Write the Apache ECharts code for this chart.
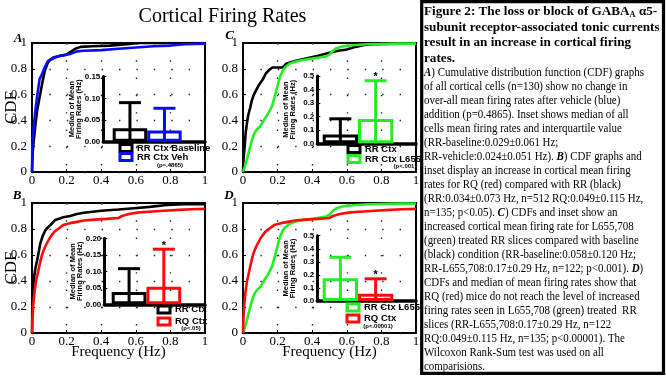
<!DOCTYPE html>
<html><head><meta charset="utf-8">
<script src="https://cdn.jsdelivr.net/npm/echarts@6/dist/echarts.min.js"></script>
<style>html,body{margin:0;padding:0;background:#fff}#c{width:666px;height:378px}</style>
</head><body><div id="c"></div>
<script>
// ---------- DATA ----------
const freqTicks = [0, 0.2, 0.4, 0.6, 0.8, 1];
// CDF curves: [frequency (Hz), cumulative fraction]
const cdfA_baseline = [[0,0],[0.004,0.15],[0.01,0.24],[0.02,0.37],[0.03,0.48],[0.044,0.58],[0.058,0.68],[0.073,0.78],[0.092,0.85],[0.106,0.87],[0.13,0.885],[0.16,0.9],[0.2,0.91],[0.22,0.93],[0.25,0.955],[0.28,0.97],[0.35,0.975],[0.45,0.98],[0.55,0.99],[0.62,1],[1,1]];
const cdfA_veh = [[0,0],[0.002,0.2],[0.01,0.35],[0.02,0.48],[0.029,0.58],[0.044,0.72],[0.058,0.76],[0.073,0.81],[0.092,0.86],[0.11,0.875],[0.125,0.89],[0.164,0.9],[0.22,0.915],[0.26,0.935],[0.3,0.94],[0.4,0.945],[0.5,0.955],[0.6,0.965],[0.7,0.975],[0.8,0.98],[0.88,0.99],[1,0.995]];
const cdfB_rr = [[0,0],[0.002,0.23],[0.01,0.41],[0.02,0.5],[0.03,0.56],[0.04,0.63],[0.048,0.69],[0.06,0.74],[0.077,0.79],[0.09,0.81],[0.106,0.83],[0.12,0.85],[0.135,0.87],[0.16,0.88],[0.18,0.89],[0.22,0.9],[0.26,0.915],[0.3,0.925],[0.4,0.94],[0.5,0.95],[0.59,0.96],[0.68,0.97],[0.78,0.985],[0.88,0.99],[1,0.99]];
const cdfRQ = [[0,0],[0.003,0.12],[0.008,0.23],[0.015,0.32],[0.023,0.4],[0.03,0.44],[0.04,0.5],[0.05,0.56],[0.06,0.61],[0.07,0.645],[0.08,0.675],[0.09,0.7],[0.1,0.725],[0.11,0.745],[0.13,0.78],[0.15,0.8],[0.18,0.83],[0.22,0.845],[0.26,0.855],[0.3,0.865],[0.36,0.872],[0.43,0.878],[0.5,0.885],[0.52,0.9],[0.56,0.915],[0.62,0.928],[0.7,0.935],[0.76,0.94],[0.85,0.947],[0.92,0.952],[1,0.955]];
const cdfC_rr = [[0,0],[0.003,0.1],[0.01,0.2],[0.015,0.3],[0.023,0.38],[0.03,0.44],[0.042,0.5],[0.05,0.55],[0.06,0.59],[0.07,0.62],[0.08,0.645],[0.09,0.67],[0.1,0.69],[0.11,0.71],[0.12,0.73],[0.13,0.76],[0.15,0.79],[0.17,0.81],[0.23,0.81],[0.25,0.84],[0.3,0.86],[0.35,0.875],[0.43,0.9],[0.5,0.925],[0.55,0.94],[0.6,0.95],[0.65,0.97],[0.7,0.985],[0.75,0.99],[0.9,0.995],[1,1]];
const cdfL655 = [[0,0],[0.01,0.04],[0.023,0.1],[0.04,0.19],[0.05,0.24],[0.06,0.28],[0.07,0.31],[0.08,0.33],[0.1,0.355],[0.12,0.4],[0.14,0.44],[0.16,0.49],[0.17,0.52],[0.18,0.57],[0.19,0.62],[0.2,0.67],[0.21,0.72],[0.22,0.76],[0.235,0.8],[0.25,0.82],[0.27,0.84],[0.3,0.855],[0.33,0.865],[0.38,0.875],[0.43,0.885],[0.48,0.895],[0.5,0.91],[0.52,0.94],[0.54,0.96],[0.58,0.975],[0.65,0.985],[0.72,0.99],[0.9,0.995],[1,0.995]];

// Insets: median of mean firing rates (Hz) and top of interquartile error bar
const insetA_names = ['RR Ctx Baseline', 'RR Ctx Veh'];
const insetA_median = [0.031, 0.026];
const insetA_upper = [0.090, 0.077];
const insetA_star = ['', ''];
const insetA_p = '(p=.4865)';

const insetB_names = ['RR Ctx', 'RQ Ctx'];
const insetB_median = [0.037, 0.053];
const insetB_upper = [0.108, 0.167];
const insetB_star = ['', '*'];
const insetB_p = '(p<.05)';

const insetC_names = ['RR Ctx', 'RR Ctx L655'];
const insetC_median = [0.066, 0.18];
const insetC_upper = [0.182, 0.465];
const insetC_star = ['', '*'];
const insetC_p = '(p<.001)';

const insetD_names = ['RR Ctx L655', 'RQ Ctx'];
const insetD_median = [0.175, 0.055];
const insetD_upper = [0.335, 0.170];
const insetD_star = ['', '*'];
const insetD_p = '(p<.00001)';

const chartTitle = 'Cortical Firing Rates';
const captionHead = [
  'Figure 2: The loss or block of GABA{s|A} α5-',
  'subunit receptor-associated tonic currents',
  'result in an increase in cortical firing',
  'rates.'
];
const captionBody = [
  '{bi|A}) Cumulative distribution function (CDF) graphs',
  'of all cortical cells (n=130) show no change in',
  'over-all mean firing rates after vehicle (blue)',
  'addition (p=0.4865). Inset shows median of all',
  'cells mean firing rates and interquartile value',
  '(RR-baseline:0.029±0.061 Hz;',
  'RR-vehicle:0.024±0.051 Hz). {bi|B}) CDF graphs and',
  'inset display an increase in cortical mean firing',
  'rates for RQ (red) compared with RR (black)',
  '(RR:0.034±0.073 Hz, n=512 RQ:0.049±0.115 Hz,',
  'n=135; p<0.05). {bi|C}) CDFs and inset show an',
  'increased cortical mean firing rate for L655,708',
  '(green) treated RR slices compared with baseline',
  '(black) condition (RR-baseline:0.058±0.120 Hz;',
  'RR-L655,708:0.17±0.29 Hz, n=122; p<0.001). {bi|D})',
  'CDFs and median of mean firing rates show that',
  'RQ (red) mice do not reach the level of increased',
  'firing rates seen in L655,708 (green) treated  RR',
  'slices (RR-L655,708:0.17±0.29 Hz, n=122',
  'RQ:0.049±0.115 Hz, n=135; p<0.00001). The',
  'Wilcoxon Rank-Sum test was used on all',
  'comparisions.'
];

// ---------- STYLE / LAYOUT ----------
const SERIF = "'Liberation Serif', 'Times New Roman', serif";
const SANS = "'Liberation Sans', Arial, sans-serif";
const BLACK = '#000000', BLUE = '#0a0aff', RED = '#ff0a0a', GREEN = '#22ee22';

const panels = [
  { letter:'A', letterPos:[18,39], main:{left:32, top:43, width:173, height:129}, yName:'CDF', xName:'',
    lines:[{name:'RR Ctx Baseline', data:cdfA_baseline, color:BLACK},{name:'RR Ctx Veh', data:cdfA_veh, color:BLUE}],
    inset:{frame:{left:103.3, top:76.6, width:101.7, height:65.1}, bars:{left:112.7, width:69}, max:0.15, interval:0.05, dec:2,
      names:insetA_names, colors:[BLACK,BLUE], median:insetA_median, upper:insetA_upper, star:insetA_star},
    legend:{left:118.5, top:143, gap:-1}, p:{text:insetA_p, x:170, y:165.5} },
  { letter:'C', letterPos:[229.5,36], main:{left:243, top:43, width:173, height:129}, yName:'', xName:'',
    lines:[{name:'RR Ctx', data:cdfC_rr, color:BLACK},{name:'RR Ctx L655', data:cdfL655, color:GREEN}],
    inset:{frame:{left:317.3, top:76, width:98.7, height:67.3}, bars:{left:322.7, width:70.6}, max:0.5, interval:0.1, dec:1,
      names:insetC_names, colors:[BLACK,GREEN], median:insetC_median, upper:insetC_upper, star:insetC_star},
    legend:{left:346.5, top:144, gap:0}, p:{text:insetC_p, x:405, y:166} },
  { letter:'B', letterPos:[17,195.5], main:{left:32, top:203, width:173, height:130}, yName:'CDF', xName:'Frequency (Hz)',
    lines:[{name:'RR Ctx', data:cdfB_rr, color:BLACK},{name:'RQ Ctx', data:cdfRQ, color:RED}],
    inset:{frame:{left:104.3, top:238.3, width:100.7, height:66}, bars:{left:111.7, width:69.5}, max:0.2, interval:0.05, dec:2,
      names:insetB_names, colors:[BLACK,RED], median:insetB_median, upper:insetB_upper, star:insetB_star},
    legend:{left:156.5, top:304.5, gap:2}, p:{text:insetB_p, x:191, y:328} },
  { letter:'D', letterPos:[229,196], main:{left:243, top:203, width:173, height:130}, yName:'', xName:'Frequency (Hz)',
    lines:[{name:'RR Ctx L655', data:cdfL655, color:GREEN},{name:'RQ Ctx', data:cdfRQ, color:RED}],
    inset:{frame:{left:317.3, top:235.7, width:98.7, height:65.3}, bars:{left:322.7, width:70.6}, max:0.5, interval:0.1, dec:1,
      names:insetD_names, colors:[GREEN,RED], median:insetD_median, upper:insetD_upper, star:insetD_star},
    legend:{left:345.5, top:302.5, gap:1}, p:{text:insetD_p, x:378, y:326.5} }
];

function buildOption(){
  const grid=[], xAxis=[], yAxis=[], barSeries=[], lineSeries=[], errSeries=[], legend=[], graphic=[];
  panels.forEach(p => {
    // main CDF grid
    const gi = grid.length;
    grid.push({left:p.main.left, top:p.main.top, width:p.main.width, height:p.main.height, show:true,
      borderColor:'#000', borderWidth:2, backgroundColor:'rgba(0,0,0,0)', containLabel:false, outerBoundsMode:'none'});
    xAxis.push({gridIndex:gi, type:'value', min:freqTicks[0], max:freqTicks[freqTicks.length-1], interval:freqTicks[1]-freqTicks[0],
      name:p.xName, nameLocation:'middle', nameGap:12, nameMoveOverlap:false,
      nameTextStyle:{fontFamily:SERIF, fontSize:15, color:'#000'},
      axisLine:{show:false}, axisTick:{show:true, inside:true, length:3, lineStyle:{color:'#000', width:1}},
      axisLabel:{margin:2, fontFamily:SERIF, fontSize:13, color:'#000', showMinLabel:true, showMaxLabel:true},
      splitLine:{show:true, lineStyle:{color:'#222', width:1.4, type:[1.4,15.9]}}});
    yAxis.push({gridIndex:gi, type:'value', min:0, max:1, interval:0.2,
      name:p.yName, nameLocation:'middle', nameRotate:90, nameGap:12, nameMoveOverlap:false,
      nameTextStyle:{fontFamily:SERIF, fontSize:17, color:'#000'},
      axisLine:{show:false}, axisTick:{show:true, inside:true, length:3, lineStyle:{color:'#000', width:1}},
      axisLabel:{margin:5, fontFamily:SERIF, fontSize:13, color:'#000', showMinLabel:true, showMaxLabel:true},
      splitLine:{show:true, lineStyle:{color:'#222', width:1.4, type:[1.4,16]}}});
    p.lines.forEach(l => lineSeries.push({type:'line', name:p.letter+' '+l.name+' CDF', xAxisIndex:gi, yAxisIndex:gi,
      data:l.data, showSymbol:false, symbol:'none', clip:true, z:3,
      lineStyle:{color:l.color, width:2.6}, itemStyle:{color:l.color}}));

    const ins = p.inset;
    // inset frame (axes)
    const fi = grid.length;
    grid.push({left:ins.frame.left, top:ins.frame.top, width:ins.frame.width, height:ins.frame.height, show:false, containLabel:false, outerBoundsMode:'none'});
    xAxis.push({gridIndex:fi, type:'value', min:0, max:1, axisLine:{show:true, onZero:false, lineStyle:{color:'#000', width:3.5}},
      axisTick:{show:false}, axisLabel:{show:false}, splitLine:{show:false}});
    yAxis.push({gridIndex:fi, type:'value', min:0, max:ins.max, interval:ins.interval,
      axisLine:{show:true, onZero:false, lineStyle:{color:'#000', width:3}},
      axisTick:{show:true, inside:true, length:3, lineStyle:{color:'#000', width:1}},
      axisLabel:{margin:3, fontFamily:SANS, fontWeight:'bold', fontSize:8, color:'#000', formatter:v=>v.toFixed(ins.dec)},
      splitLine:{show:false},
      name:'Median of Mean\nFiring Rates (Hz)', nameLocation:'middle', nameRotate:90, nameGap:21, nameMoveOverlap:false,
      nameTextStyle:{fontFamily:SANS, fontWeight:'bold', fontSize:7.5, lineHeight:7, color:'#000'}});
    // inset bars
    const bi = grid.length;
    grid.push({left:ins.bars.left, top:ins.frame.top, width:ins.bars.width, height:ins.frame.height, show:false, containLabel:false, outerBoundsMode:'none'});
    xAxis.push({gridIndex:bi, type:'category', data:ins.names, show:false, boundaryGap:true});
    yAxis.push({gridIndex:bi, type:'value', min:0, max:ins.max, show:false});
    ins.names.forEach((nm, i) => barSeries.push({type:'bar', name:nm, xAxisIndex:bi, yAxisIndex:bi,
      data:ins.median.map((v,j)=> j===i ? v : '-'), barWidth:'100%', barGap:'-100%', clip:false, z:4,
      itemStyle:{color:'rgba(255,255,255,0)', borderColor:ins.colors[i], borderWidth:3}}));
    errSeries.push({type:'custom', xAxisIndex:bi, yAxisIndex:bi, clip:false, z:5,
      data:ins.upper.map((u,j)=>[j,u]),
      renderItem:(params, api) => {
        const j = api.value(0);
        const top = api.coord([j, api.value(1)]);
        const base = api.coord([j, 0]);
        const c = ins.colors[j];
        const half = 11;
        const ch = [
          {type:'line', shape:{x1:top[0], y1:base[1], x2:top[0], y2:top[1]}, style:{stroke:c, lineWidth:3}},
          {type:'line', shape:{x1:top[0]-half, y1:top[1], x2:top[0]+half, y2:top[1]}, style:{stroke:c, lineWidth:3}}
        ];
        if (ins.star[j]) ch.push({type:'text', x:top[0], y:top[1]-9,
          style:{text:ins.star[j], fill:'#000', fontSize:11, fontWeight:'bold', fontFamily:SANS, align:'center', verticalAlign:'top'}});
        return {type:'group', children:ch};
      }});
    legend.push({data:ins.names, left:p.legend.left, top:p.legend.top, orient:'vertical', icon:'rect',
      itemWidth:12, itemHeight:7, itemGap:p.legend.gap, padding:0, selectedMode:false,
      itemStyle:{borderWidth:3}, textStyle:{fontFamily:SANS, fontWeight:'bold', fontSize:9.5, lineHeight:10, color:'#000'}});
    graphic.push({type:'text', x:p.p.x, y:p.p.y, silent:true,
      style:{text:p.p.text, fontFamily:SANS, fontWeight:'bold', fontSize:6, fill:'#000', align:'center', verticalAlign:'middle'}});
    graphic.push({type:'text', x:p.letterPos[0], y:p.letterPos[1], silent:true,
      style:{text:p.letter, fontFamily:SERIF, fontWeight:'bold', fontStyle:'italic', fontSize:13, fill:'#000', align:'center', verticalAlign:'middle'}});
  });

  graphic.push({type:'text', x:222.5, y:17, silent:true,
    style:{text:chartTitle, fontFamily:SERIF, fontSize:20, fill:'#000', align:'center', verticalAlign:'middle'}});
  // caption box
  graphic.push({type:'rect', silent:true, shape:{x:421.7, y:1.6, width:241.8, height:371.8},
    style:{fill:'#fff', stroke:'#000', lineWidth:3.2}});
  const headY = [11.7, 27.3, 42.9, 58.4];
  captionHead.forEach((t,i) => graphic.push({type:'text', x:424, y:headY[i], scaleX:0.975, silent:true,
    style:{text:t, fontFamily:SERIF, fontWeight:'bold', fontSize:13.5, fill:'#000', align:'left', verticalAlign:'middle',
      rich:{s:{fontFamily:SERIF, fontWeight:'bold', fontSize:8.5, padding:[7,0,0,0]}}}}));
  captionBody.forEach((t,i) => graphic.push({type:'text', x:424, y:72.7 + 14*i, scaleX:0.95, silent:true,
    style:{text:t, fontFamily:SERIF, fontSize:11.5, fill:'#000', align:'left', verticalAlign:'middle',
      rich:{bi:{fontFamily:SERIF, fontWeight:'bold', fontStyle:'italic', fontSize:11.5}}}}));

  return {animation:false, backgroundColor:'#fff', grid, xAxis, yAxis, legend,
    series:[...barSeries, ...lineSeries, ...errSeries], graphic};
}

const chart = echarts.init(document.getElementById('c'), null, {renderer:'canvas'});
chart.setOption(buildOption());
</script></body></html>
